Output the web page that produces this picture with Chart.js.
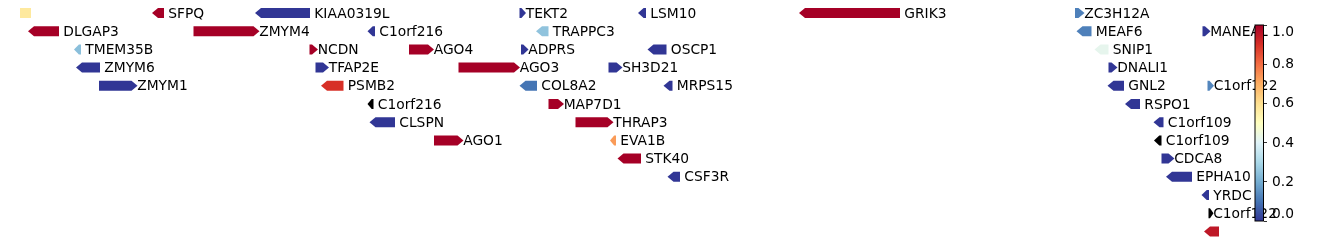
<!DOCTYPE html>
<html><head><meta charset="utf-8">
<script src="https://cdn.jsdelivr.net/npm/chart.js@4/dist/chart.umd.min.js"></script>
<style>
html,body{margin:0;padding:0;background:#fff;overflow:hidden}
#wrap{position:relative;width:1338px;height:246px}
#main{position:absolute;left:0;top:0}
#cbar{position:absolute;left:1240px;top:0}
</style></head><body>
<div id="wrap"><canvas id="main" width="1338" height="246"></canvas><canvas id="cbar" width="98" height="246"></canvas></div>
<script>
// ---- data ----
const genes  = ['', 'SFPQ', 'KIAA0319L', 'TEKT2', 'LSM10', 'GRIK3', 'ZC3H12A',
  'DLGAP3', 'ZMYM4', 'C1orf216', 'TRAPPC3', 'MEAF6', 'MANEAL',
  'TMEM35B', 'NCDN', 'AGO4', 'ADPRS', 'OSCP1', 'SNIP1',
  'ZMYM6', 'TFAP2E', 'AGO3', 'SH3D21', 'DNALI1',
  'ZMYM1', 'PSMB2', 'COL8A2', 'MRPS15', 'GNL2', 'C1orf122',
  'C1orf216', 'MAP7D1', 'RSPO1',
  'CLSPN', 'THRAP3', 'C1orf109',
  'AGO1', 'EVA1B', 'C1orf109',
  'STK40', 'CDCA8',
  'CSF3R', 'EPHA10',
  'YRDC',
  'C1orf122',
  ''];
const rows   = [0,0,0,0,0,0,0, 1,1,1,1,1,1, 2,2,2,2,2,2, 3,3,3,3,3, 4,4,4,4,4,4, 5,5,5, 6,6,6, 7,7,7, 8,8, 9,9, 10, 11, 12];
const starts = [20,152,255,519.5,638,799,1075, 28,193.5,367.5,536,1076.5,1202.5,
  74,309.5,409,521,647.5,1094.5, 76,315.5,458.5,608.5,1108.5,
  99,321,519.5,663.5,1107.5,1207.5, 367.5,548.5,1125, 369.5,575.5,1153.5,
  434,610,1154, 617.5,1161.5, 667.5,1166, 1201.5, 1208.5, 1204];
const ends   = [31,164,310,526,646,900,1084.5, 59,259.5,375,548.5,1091.5,1210.5,
  81,318,434,528.5,666.5,1108.5, 100,329,520,622.5,1117.5,
  137.5,343.5,537,672.5,1124,1214, 373.5,564,1140, 395,613.5,1163.5,
  463.5,616,1161.5, 641,1174.5, 680,1192, 1209, 1213.5, 1219];
const strands= [0,-1,-1,1,-1,-1,1, -1,1,-1,-1,-1,1, -1,1,1,1,-1,-1, -1,1,1,1,1,
  1,-1,-1,-1,-1,1, -1,1,-1, -1,1,-1, 1,-1,-1, -1,1, -1,-1, -1, 1, -1];
const scores = [0.57,1,0,0,0,1,0.12, 1,1,0,0.25,0.12,0, 0.24,1,1,0,0,0.42, 0,0,1,0,0,
  0,0.9,0.1,0,0,0.13, null,1,0, 0,1,0, 1,0.73,null, 1,0, 0,0, 0, null, 0.95];
const cbarTicks = [0, 0.2, 0.4, 0.6, 0.8, 1.0];

// ---- colormap RdYlBu_r ----
const CMAP = ['#313695','#4575b4','#74add1','#abd9e9','#e0f3f8','#ffffbf','#fee090','#fdae61','#f46d43','#d73027','#a50026'];
function hex2rgb(h){return [parseInt(h.substr(1,2),16),parseInt(h.substr(3,2),16),parseInt(h.substr(5,2),16)];}
function cmap(v){
  if (v === null || v === undefined) return '#000000';
  v = Math.max(0, Math.min(1, v));
  const p = v * (CMAP.length - 1), i = Math.min(Math.floor(p), CMAP.length - 2), f = p - i;
  const a = hex2rgb(CMAP[i]), b = hex2rgb(CMAP[i+1]);
  const c = a.map((x,k)=>Math.round(x + (b[k]-x)*f));
  return 'rgb(' + c.join(',') + ')';
}
const FONT = '13.8px "DejaVu Sans", sans-serif';

const arrowPlugin = {
  id: 'arrows',
  afterDatasetsDraw(chart) {
    const ctx = chart.ctx, xs = chart.scales.x, ys = chart.scales.y;
    const ds = chart.data.datasets[0];
    ctx.save();
    ds.data.forEach((d, i) => {
      const x0 = xs.getPixelForValue(d.start), x1 = xs.getPixelForValue(d.end);
      const yc = ys.getPixelForValue(d.row);
      const h = Math.abs(ys.getPixelForValue(d.row + 0.275) - yc);
      const w = x1 - x0;
      const head = Math.min(6, w * 0.7);
      ctx.fillStyle = cmap(d.score);
      ctx.beginPath();
      if (d.strand > 0) {
        ctx.moveTo(x0, yc - h); ctx.lineTo(x1 - head, yc - h); ctx.lineTo(x1, yc);
        ctx.lineTo(x1 - head, yc + h); ctx.lineTo(x0, yc + h);
      } else if (d.strand < 0) {
        ctx.moveTo(x1, yc - h); ctx.lineTo(x0 + head, yc - h); ctx.lineTo(x0, yc);
        ctx.lineTo(x0 + head, yc + h); ctx.lineTo(x1, yc + h);
      } else {
        ctx.rect(x0, yc - h, w, 2 * h);
      }
      ctx.closePath();
      ctx.fill();
      if (d.label) {
        ctx.fillStyle = '#000';
        ctx.font = FONT;
        ctx.textBaseline = 'middle';
        ctx.textAlign = 'left';
        ctx.fillText(d.label, d.strand > 0 ? x1 - 0.3 : x1 + 4.3, yc + 1);
      }
    });
    ctx.restore();
  }
};

new Chart(document.getElementById('main'), {
  type: 'scatter',
  data: { datasets: [{
    data: genes.map((g, i) => ({ x: starts[i], y: rows[i], start: starts[i], end: ends[i], row: rows[i], strand: strands[i], score: scores[i], label: g })),
    pointRadius: 0, pointHoverRadius: 0
  }]},
  options: {
    responsive: false, animation: false, devicePixelRatio: 1,
    layout: { padding: { left: 0, right: 93, top: 3.9, bottom: 5.5 } },
    plugins: { legend: { display: false }, tooltip: { enabled: false } },
    events: [],
    scales: {
      x: { type: 'linear', min: 0, max: 1245, display: false },
      y: { type: 'linear', min: -0.5, max: 12.5, reverse: true, display: false }
    }
  },
  plugins: [arrowPlugin]
});

const cbarPlugin = {
  id: 'cbar',
  beforeDatasetsDraw(chart) {
    const ctx = chart.ctx, a = chart.chartArea;
    const g = ctx.createLinearGradient(0, a.bottom, 0, a.top);
    CMAP.forEach((c, i) => g.addColorStop(i / (CMAP.length - 1), c));
    ctx.save();
    ctx.fillStyle = g;
    ctx.fillRect(a.left, a.top, a.right - a.left, a.bottom - a.top);
    ctx.strokeStyle = '#000'; ctx.lineWidth = 1;
    ctx.strokeRect(a.left, a.top, a.right - a.left, a.bottom - a.top);
    const ys = chart.scales.y;
    ctx.fillStyle = '#000'; ctx.font = FONT; ctx.textBaseline = 'middle'; ctx.textAlign = 'left';
    cbarTicks.forEach(v => {
      let y = ys.getPixelForValue(v);
      y = Math.max(a.top + 6.5, Math.min(a.bottom - 7.5, y));
      ctx.fillText(v.toFixed(1), a.right + 8.5, y + 0.5);
    });
    ctx.restore();
  }
};

new Chart(document.getElementById('cbar'), {
  type: 'scatter',
  data: { datasets: [{ data: [], pointRadius: 0 }] },
  options: {
    responsive: false, animation: false, devicePixelRatio: 1,
    layout: { padding: { left: 15, right: 34.5, top: 25, bottom: 25 } },
    plugins: { legend: { display: false }, tooltip: { enabled: false } },
    events: [],
    scales: {
      x: { type: 'linear', min: 0, max: 1, display: false },
      y: {
        type: 'linear', position: 'right', min: 0, max: 1,
        afterBuildTicks(s) { s.ticks = cbarTicks.map(v => ({ value: v })); },
        afterFit(s) { s.width = 40; },
        border: { display: false },
        grid: { drawOnChartArea: false, drawTicks: true, tickLength: 3.5, color: '#000', lineWidth: 0.8 },
        ticks: { display: false }
      }
    }
  },
  plugins: [cbarPlugin]
});
</script>
</body></html>
